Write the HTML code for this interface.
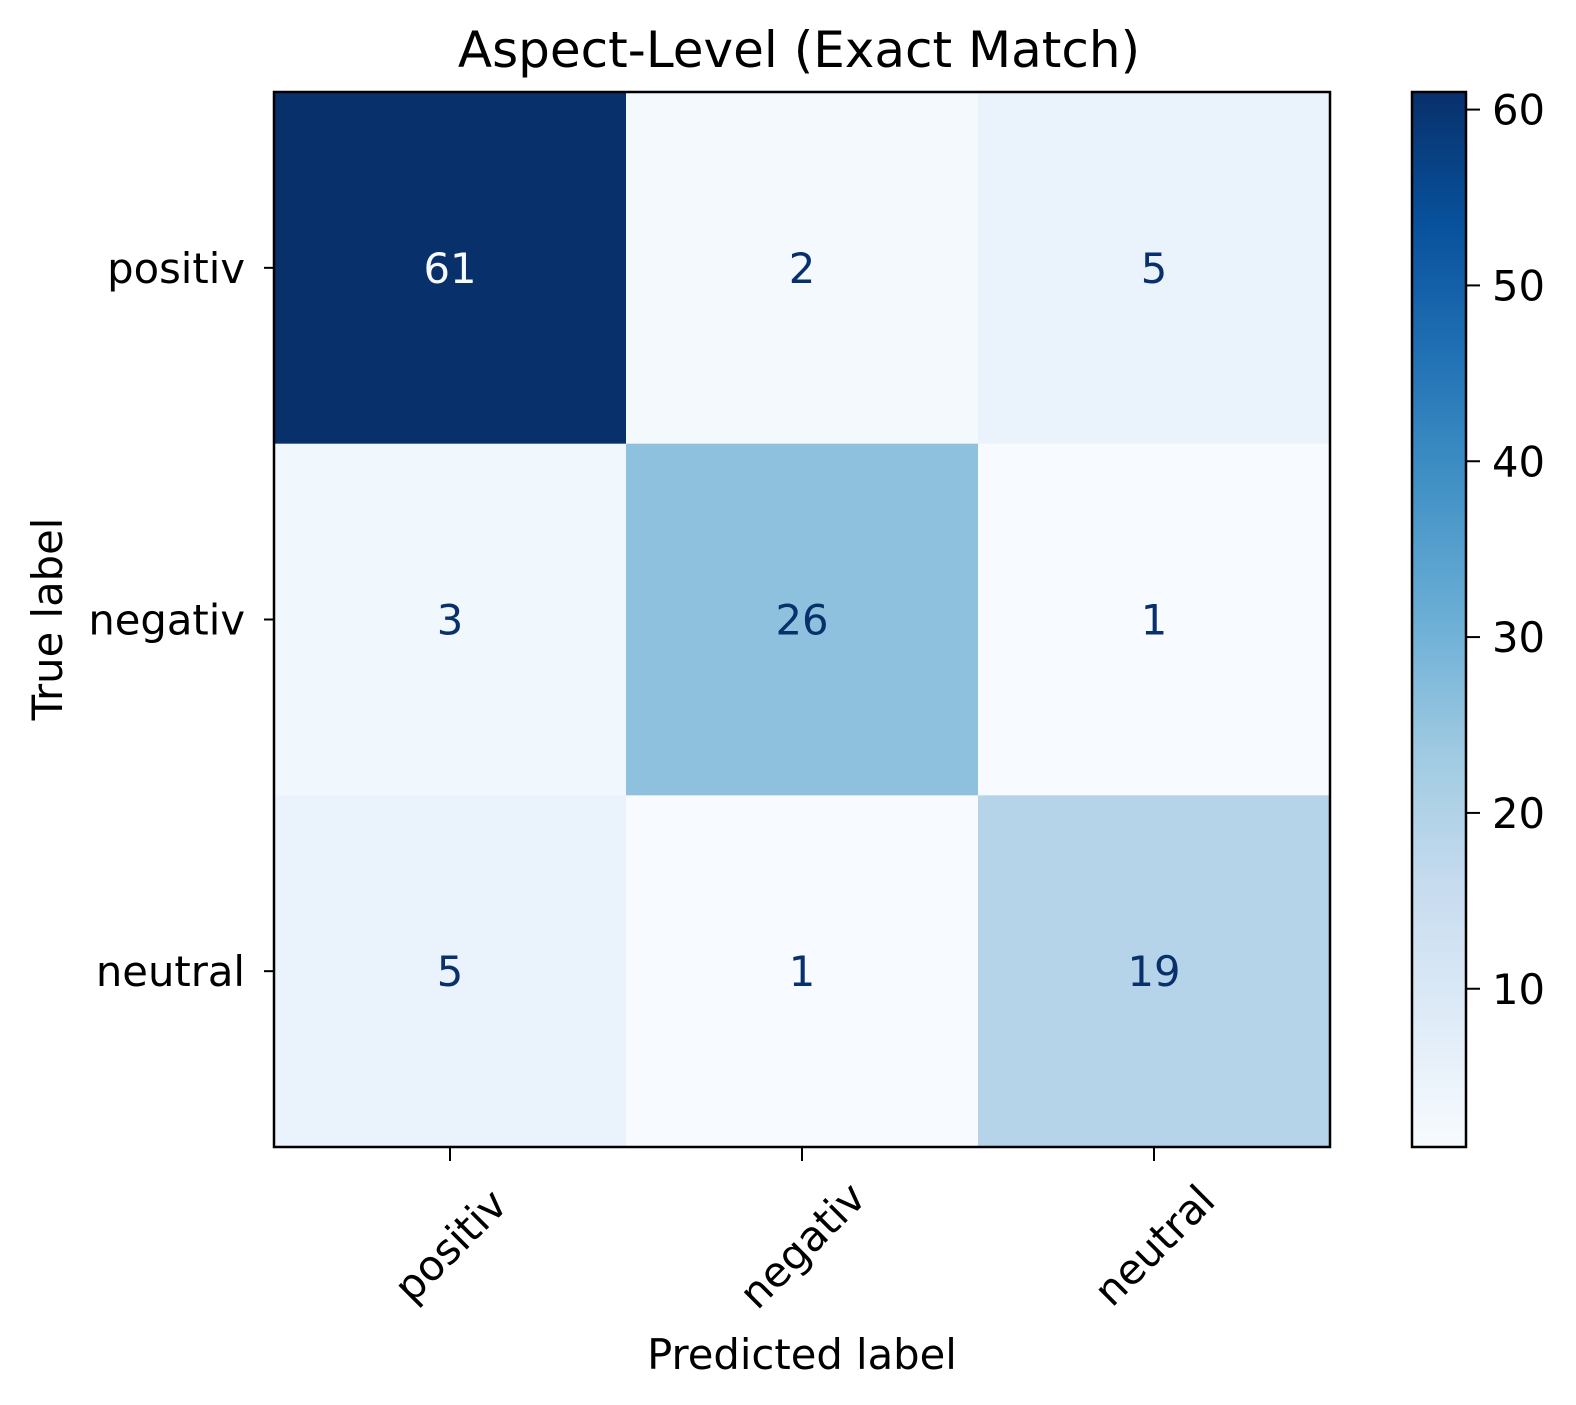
<!DOCTYPE html>
<html><head><meta charset="utf-8"><style>
body{margin:0;background:#fff;}
svg{display:block;font-family:"DejaVu Sans","Liberation Sans",sans-serif;}
</style></head><body>
<svg id="chart" width="1576" height="1405">
<defs><linearGradient id="cbg" x1="0" y1="1" x2="0" y2="0"></linearGradient></defs>
<text x="799" y="67" font-size="50" text-anchor="middle">Aspect-Level (Exact Match)</text>
<g id="cells"></g>
<rect x="274" y="92" width="1056" height="1055" fill="none" stroke="#000" stroke-width="2.5"/>
<g id="axes"></g>
<text x="802" y="1369" font-size="41.7" text-anchor="middle">Predicted label</text>
<text transform="translate(62,619) rotate(-90)" font-size="41.7" text-anchor="middle">True label</text>
<rect x="1412" y="92" width="54" height="1055" fill="url(#cbg)"/>
<rect x="1412" y="92" width="54" height="1055" fill="none" stroke="#000" stroke-width="2.5"/>
<g id="cbticks"></g>
</svg>
<script>
const categories = ["positiv","negativ","neutral"];
const row0 = [61,2,5];
const row1 = [3,26,1];
const row2 = [5,1,19];
const cbTicks = [10,20,30,40,50,60];
const vmin = 1, vmax = 61;
const matrix=[row0,row1,row2];
const FS=41.7;
const blues=["#f7fbff","#deebf7","#c6dbef","#9ecae1","#6baed6","#4292c6","#2171b5","#08519c","#08306b"];
function hex(h){return [1,3,5].map(i=>parseInt(h.substr(i,2),16));}
function cmap(v){let t=(v-vmin)/(vmax-vmin);t=Math.max(0,Math.min(1,t));const p=t*8,i=Math.min(7,Math.floor(p)),f=p-i;const a=hex(blues[i]),b=hex(blues[i+1]);return "rgb("+a.map((c,k)=>Math.round(c+(b[k]-c)*f)).join(",")+")";}
const X0=274,Y0=92,W=1056,H=1055,n=categories.length,cw=W/n,ch=H/n;
const xs=i=>X0+cw*(i+0.5), ys=i=>Y0+ch*(i+0.5);
const NS="http://www.w3.org/2000/svg";
function mk(tag,attrs,parent){const e=document.createElementNS(NS,tag);for(const k in attrs)e.setAttribute(k,attrs[k]);parent.appendChild(e);return e;}
const cells=document.getElementById("cells"),axes=document.getElementById("axes"),cbt=document.getElementById("cbticks");
matrix.forEach((row,r)=>row.forEach((v,c)=>{
 const rc=mk("rect",{x:X0+cw*c,y:Y0+ch*r,width:cw+0.5,height:ch+0.5,fill:cmap(v)},cells);
 
 
 const t=mk("text",{x:xs(c),y:ys(r)+15,"font-size":FS,"text-anchor":"middle",fill:v>(vmin+vmax)/2?"#f7fbff":"#08306b"},cells);
 t.textContent=v;
 
 
}));
categories.forEach((c,i)=>{
 const a=mk("line",{x1:264,x2:274,y1:ys(i),y2:ys(i),stroke:"#000","stroke-width":2},axes);
 
 
 const t=mk("text",{x:245,y:ys(i)+15,"font-size":FS,"text-anchor":"end"},axes);
 t.textContent=c;
 
 
 const b=mk("line",{x1:xs(i),x2:xs(i),y1:1147,y2:1161,stroke:"#000","stroke-width":2},axes);
 
 
 const u=mk("text",{transform:"translate("+xs(i)+",1245) rotate(-45)","font-size":FS,"text-anchor":"middle",dy:"0.36em"},axes);
 u.textContent=c;
 
 
});
const g=document.getElementById("cbg");
for(let k=0;k<=16;k++){mk("stop",{offset:k/16,"stop-color":cmap(vmin+(vmax-vmin)*k/16)},g);}
const cby=v=>Y0+H*(1-(v-vmin)/(vmax-vmin));
cbTicks.forEach(v=>{
 const l=mk("line",{x1:1466,x2:1480,y1:cby(v),y2:cby(v),stroke:"#000","stroke-width":2},cbt);
 
 
 const t=mk("text",{x:1492,y:cby(v)+15,"font-size":FS},cbt);
 t.textContent=v;
 
 
});
</script>
</body></html>
